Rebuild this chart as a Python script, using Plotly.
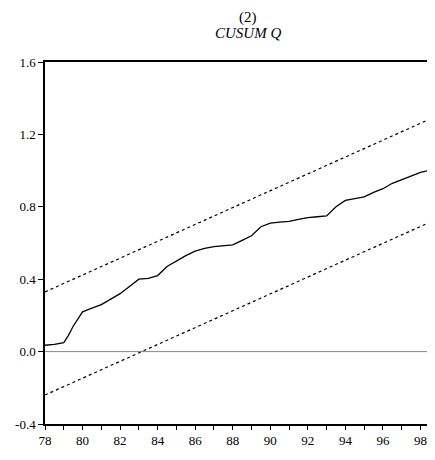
import plotly.graph_objects as go

# CUSUM of squares series
years = [78.0, 78.5, 79.0, 79.25, 79.5, 79.75, 80.0, 80.5, 81.0, 81.5, 82.0, 82.5, 83.0,
         83.5, 84.0, 84.5, 85.0, 85.5, 86.0, 86.5, 87.0, 87.5, 88.0, 88.5, 89.0, 89.5,
         90.0, 90.5, 91.0, 91.5, 92.0, 92.5, 93.0, 93.5, 94.0, 94.5, 95.0, 95.5, 96.0,
         96.5, 97.0, 97.5, 98.0, 98.4]
cusumq = [0.035, 0.04, 0.05, 0.09, 0.14, 0.18, 0.22, 0.24, 0.26, 0.29, 0.32, 0.36, 0.40,
          0.405, 0.42, 0.47, 0.50, 0.53, 0.555, 0.57, 0.58, 0.585, 0.59, 0.615, 0.64, 0.69,
          0.71, 0.715, 0.72, 0.73, 0.74, 0.745, 0.75, 0.80, 0.835, 0.845, 0.855, 0.88, 0.90,
          0.93, 0.95, 0.97, 0.99, 1.0]

# 5% significance bounds (straight lines, endpoints)
bound_years = [78.0, 98.4]
upper = [0.33, 1.28]
lower = [-0.24, 0.71]

title_lines = ["(2)", "CUSUM Q"]
y_ticks = [-0.4, 0.0, 0.4, 0.8, 1.2, 1.6]
y_labels = ["-0.4", "0.0", "0.4", "0.8", "1.2", "1.6"]
x_ticks = list(range(78, 99, 2))
x_labels = [str(v) for v in x_ticks]

fig = go.Figure()
fig.add_trace(go.Scatter(x=bound_years, y=[0, 0], mode="lines",
                         line=dict(color="#888888", width=1), hoverinfo="skip"))
fig.add_trace(go.Scatter(x=bound_years, y=upper, mode="lines",
                         line=dict(color="black", width=1.2, dash="dot")))
fig.add_trace(go.Scatter(x=bound_years, y=lower, mode="lines",
                         line=dict(color="black", width=1.2, dash="dot")))
fig.add_trace(go.Scatter(x=years, y=cusumq, mode="lines",
                         line=dict(color="black", width=1.3)))

fig.update_layout(
    width=420, height=444,
    margin=dict(l=37, r=0, t=54, b=28, autoexpand=False),
    paper_bgcolor="white", plot_bgcolor="white",
    showlegend=False,
    font=dict(family="Liberation Serif", size=13, color="black"),
    annotations=[
        dict(text=title_lines[0], xref="paper", yref="paper", x=0.53, y=1.0,
             yshift=45, xanchor="center", yanchor="middle", showarrow=False,
             font=dict(family="Liberation Serif", size=15)),
        dict(text="<i>" + title_lines[1] + "</i>", xref="paper", yref="paper", x=0.53, y=1.0,
             yshift=29, xanchor="center", yanchor="middle", showarrow=False,
             font=dict(family="Liberation Serif", size=15)),
    ],
)
fig.update_xaxes(range=[78, 98.4], tickvals=x_ticks, ticktext=x_labels, automargin=False,
                 showgrid=False, zeroline=False, showline=True, linecolor="black",
                 linewidth=1.5, mirror=True, ticks="outside", ticklen=4, tickwidth=1.2,
                 tickcolor="black", tickfont=dict(family="Liberation Serif", size=13),
                 minor=dict(dtick=1, ticks="outside", ticklen=4, tickcolor="black",
                            tickwidth=1.2, tick0=78))
fig.update_yaxes(range=[-0.4, 1.6], tickvals=y_ticks, ticktext=y_labels, automargin=False,
                 showgrid=False, zeroline=False, showline=True, linecolor="black",
                 linewidth=1.5, ticks="outside", ticklen=5, tickwidth=1.2,
                 tickcolor="black", tickfont=dict(family="Liberation Serif", size=13))

fig.write_html("out.html")
